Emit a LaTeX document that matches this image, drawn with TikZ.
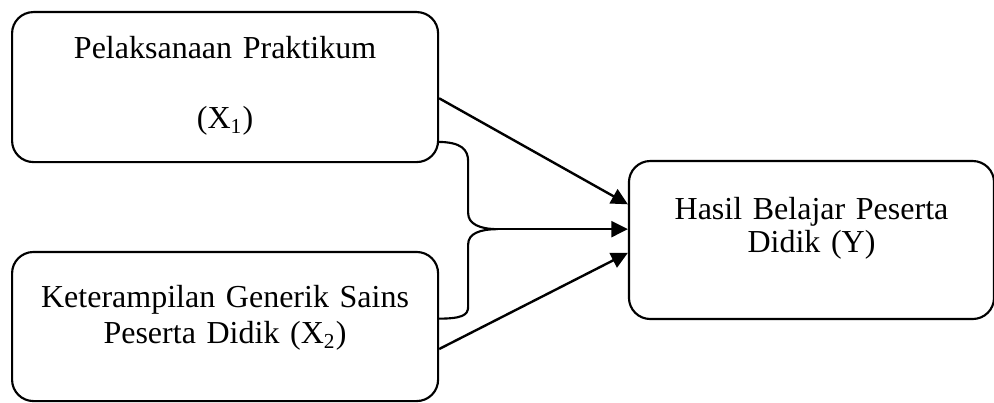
\documentclass[tikz,border=0pt]{standalone}
\usepackage{fontspec}
\setmainfont{Liberation Serif}
\usetikzlibrary{arrows.meta}

\begin{document}
\begin{tikzpicture}[
    varbox/.style={draw, line width=0.8pt, rounded corners=8pt, inner sep=0pt,
                   align=center, font=\fontsize{12}{13.5}\selectfont},
    link/.style={line width=0.9pt, -{Triangle[length=6.2pt,width=6pt]}}
]
    \useasboundingbox (0,0) rectangle (13.10,5.31);

    % Independent variables
    \node[varbox, anchor=north west, text width=159.75pt, text height=17.25pt, text depth=39pt]
        (x1) at (0.145,5.165) {Pelaksanaan Praktikum\\[13pt](X\textsubscript{1})};
    \node[varbox, anchor=north west, text width=159.75pt, text height=21pt, text depth=34.9pt]
        (x2) at (0.145,2.003) {Keterampilan Generik Sains\\Peserta Didik (X\textsubscript{2})};

    % Dependent variable
    \node[varbox, anchor=north west, text width=136.9pt, text height=21.75pt, text depth=37.5pt,
          font=\fontsize{12}{12.5}\selectfont]
        (y) at (8.275,3.202) {Hasil Belajar Peserta\\Didik (Y)};

    % Joint influence brace
    \coordinate (bt) at (5.76,3.44);
    \coordinate (bb) at (5.76,1.11);
    \coordinate (tip) at (6.56,2.29);
    \draw[line width=0.8pt] (bt) .. controls (6.08,3.44) and (6.17,3.34) .. (6.17,3.18)
        -- (6.17,2.50) .. controls (6.17,2.36) and (6.32,2.29) .. (tip)
        .. controls (6.32,2.29) and (6.17,2.23) .. (6.17,2.09)
        -- (6.17,1.27) .. controls (6.17,1.15) and (6.08,1.11) .. (bb);

    % Arrows
    \draw[link] (x1.-3) -- (y.169);
    \draw[link] (tip) -- (tip -| y.west);
    \draw[link] (x2.-6) -- (y.184);
\end{tikzpicture}
\end{document}
